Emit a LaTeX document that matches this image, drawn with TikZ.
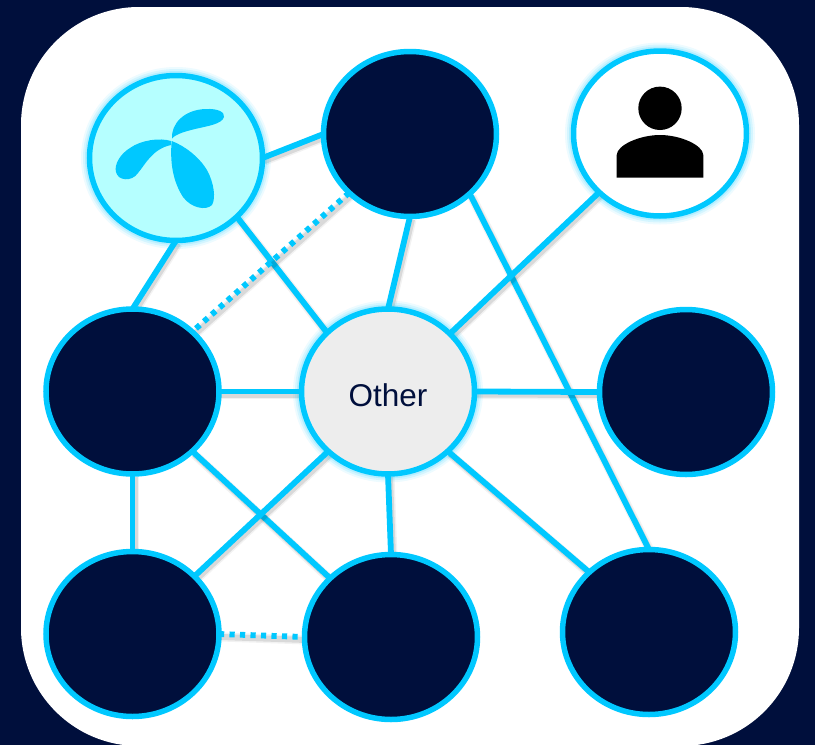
\documentclass[tikz,border=0pt]{standalone}
\usepackage{fontspec}
\setmainfont{Liberation Sans}
\usetikzlibrary{shapes.geometric}
\definecolor{navy}{HTML}{000F3C}
\definecolor{cyanline}{HTML}{00C8FF}
\definecolor{aqua}{HTML}{B5FFFF}
\definecolor{softgray}{HTML}{EDEDED}
\pgfdeclarelayer{under}
\pgfsetlayers{under,main}
\tikzset{
  x=1pt,y=-1pt,
  circ/.style={ellipse,draw=cyanline,line width=5.5pt,minimum width=173pt,minimum height=165pt,inner sep=0pt,outer sep=0pt},
  darkcirc/.style={circ,fill=navy},
  glow/.style={preaction={draw=cyanline,draw opacity=.07,line width=17pt},
               preaction={draw=cyanline,draw opacity=.10,line width=13pt},
               preaction={draw=cyanline,draw opacity=.15,line width=9pt}},
  link/.style={draw=cyanline,line width=5.8pt,
    preaction={draw=black,draw opacity=.05,line width=9pt,transform canvas={shift={(2pt,-3pt)}}},
    preaction={draw=black,draw opacity=.10,line width=6pt,transform canvas={shift={(2pt,-3pt)}}}},
  dotlink/.style={link,dash pattern=on 5.2pt off 5.3pt},
  logo/.style={fill=cyanline,draw=none},
}
\begin{document}
\begin{tikzpicture}
\useasboundingbox (0,0) rectangle (815,745);
\begin{pgfonlayer}{under}
  \fill[navy] (0,0) rectangle (815,745);
  \fill[white,rounded corners=118pt] (21,7) rectangle (799,746);
\end{pgfonlayer}

\node[circ,fill=aqua,glow] (tel) at (176,158) {};
\node[darkcirc] (top) at (410,134) {};
\node[circ,fill=white,glow] (user) at (660,133.5) {};
\node[darkcirc] (left) at (132.5,391.5) {};
\node[circ,fill=softgray,glow,text=navy,text height=29pt,text depth=0pt,font=\fontsize{31.5}{36}\selectfont] (other) at (388,391.5) {Other};
\node[darkcirc] (right) at (686,392) {};
\node[darkcirc] (bl) at (132.5,634) {};
\node[darkcirc] (bm) at (391,637) {};
\node[darkcirc] (br) at (649,632) {};

\begin{pgfonlayer}{under}
  \draw[link] (tel.0) -- (top.180);
  \draw[link] (tel.270) -- (left.90);
  \draw[link] (tel.-44) -- (other.136);
  \draw[link] (top.270) -- (other.90);
  \draw[link] (top.-45) -- (br.90);
  \draw[dotlink] (top.224) -- (left.45);
  \draw[link] (user.224) -- (other.43);
  \draw[link] (left.0) -- (other.180);
  \draw[link] (other.0) -- (right.180);
  \draw[link] (left.270) -- (bl.90);
  \draw[link] (left.-45) -- (bm.136);
  \draw[link] (other.225) -- (bl.43);
  \draw[link] (other.270) -- (bm.90);
  \draw[link] (other.-45) -- (br.135);
  \draw[dotlink] (bl.0) -- (bm.180);
\end{pgfonlayer}

% logo
\fill[logo] (172,138.5) .. controls (171,124) and (184,109.5) .. (206,109)
  .. controls (218,108.5) and (225,112) .. (224,117)
  .. controls (222,124) and (208,126) .. (195,129)
  .. controls (185,131.5) and (176,134) .. (172,138.5) -- cycle;
\fill[logo] (171,141) .. controls (160,137.5) and (141,140) .. (130,148)
  .. controls (120,154) and (114,165) .. (116,172)
  .. controls (118,181) and (132,182) .. (138,173)
  .. controls (145,165) and (152,149) .. (171,145) -- cycle;
\fill[logo] (171.7,141) .. controls (170,160) and (172,180) .. (183,197)
  .. controls (191,208) and (206,211) .. (212,205)
  .. controls (216,198) and (214,183) .. (207,170)
  .. controls (199,157) and (185,146) .. (171.7,141) -- cycle;

% person icon
\fill[black] (660,108.3) circle[radius=21.7];
\fill[black] (616.7,177.7) -- (616.7,155) .. controls (617,145) and (640,135) .. (660,135)
  .. controls (680,135) and (703,145) .. (703.3,155) -- (703.3,177.7) -- cycle;
\end{tikzpicture}
\end{document}
